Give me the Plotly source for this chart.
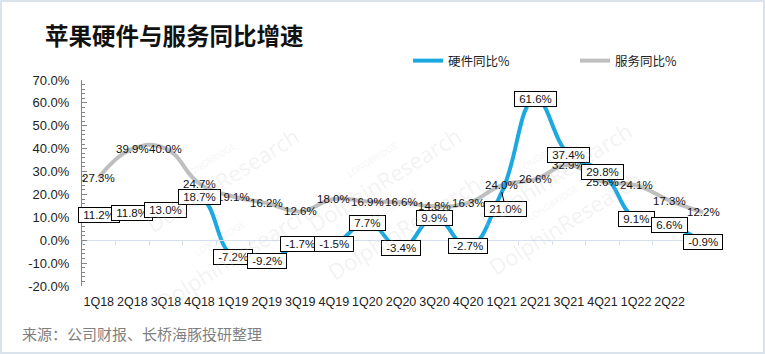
import plotly.graph_objects as go

quarters = ["1Q18", "2Q18", "3Q18", "4Q18", "1Q19", "2Q19", "3Q19", "4Q19", "1Q20", "2Q20",
            "3Q20", "4Q20", "1Q21", "2Q21", "3Q21", "4Q21", "1Q22", "2Q22", ""]
hardware = [11.2, 11.8, 13.0, 18.7, -7.2, -9.2, -1.7, -1.5, 7.7, -3.4, 9.9, -2.7, 21.0, 61.6,
            37.4, 29.8, 9.1, 6.6, -0.9]
services = [27.3, 39.9, 40.0, 24.7, 19.1, 16.2, 12.6, 18.0, 16.9, 16.6, 14.8, 16.3, 24.0, 26.6,
            32.9, 25.6, 24.1, 17.3, 12.2]
y_ticks = [-20, -10, 0, 10, 20, 30, 40, 50, 60, 70]

title = "苹果硬件与服务同比增速"
source = "来源：公司财报、长桥海豚投研整理"
hw_name = "硬件同比%"
sv_name = "服务同比%"

BLUE = "#1CA9E1"
GREY = "#BFBFBF"
W, H = 765, 354
ML, MR, MT, MB = 82, 45, 80, 68
PW, PH = W - ML - MR, H - MT - MB
CJK = "Noto Sans CJK SC"
LBL = "Liberation Sans Narrow, Liberation Sans, Arial"

x = list(range(len(quarters)))

# label offsets (px) for moved labels: index -> (ax, ay)
hw_offsets = {12: (4, 17)}

fig = go.Figure()
fig.add_trace(go.Scatter(x=x, y=services, mode="lines", name=sv_name,
                         line=dict(color=GREY, width=4, shape="spline", smoothing=1.3),
                         legend="legend2", hoverinfo="skip"))
fig.add_trace(go.Scatter(x=x, y=hardware, mode="lines", name=hw_name,
                         line=dict(color=BLUE, width=4, shape="spline", smoothing=1.3),
                         legend="legend", hoverinfo="skip"))
# invisible trace to activate zero-line axis
fig.add_trace(go.Scatter(x=x, y=hardware, xaxis="x2", mode="lines", line=dict(width=0),
                         showlegend=False, hoverinfo="skip", opacity=0))

ann = []
for i, v in enumerate(services):
    ann.append(dict(x=i, y=v, xref="x", yref="y", text=f"{v:.1f}%", showarrow=False,
                    font=dict(family=LBL, size=11.5, color="#111")))
for i, v in enumerate(hardware):
    d = dict(x=i, y=v, xref="x", yref="y", text=f"\u00a0{v:.1f}%\u00a0", showarrow=False,
             font=dict(family=LBL, size=11.5, color="#111"), bgcolor="white",
             bordercolor="black", borderwidth=1, borderpad=1)
    if i in hw_offsets:
        ax, ay = hw_offsets[i]
        d.update(showarrow=True, ax=ax, ay=ay, arrowhead=0, arrowwidth=1,
                 arrowcolor="black", standoff=0, startstandoff=0)
    ann.append(d)

# watermarks
wm = [(130, 105), (380, 105), (640, 100), (140, 320), (400, 290), (650, 285)]
for px, py in wm:
    ann.append(dict(x=(px - ML) / PW, y=1 - (py - MT) / PH, xref="paper", yref="paper",
                    text="<span style='font-size:9px'>LONGBRIDGE</span><br>DolphinResearch",
                    showarrow=False, textangle=-32, font=dict(family="Open Sans", size=22,
                    color="rgba(200,200,200,0.22)")))

ann.append(dict(x=(43 - ML) / PW, y=1 + (MT - 35) / PH, xref="paper", yref="paper",
                text=f"<b>{title}</b>", showarrow=False, xanchor="left", yanchor="middle",
                font=dict(family=CJK, size=23.5, color="#111")))
ann.append(dict(x=(20 - ML) / PW, y=-(333 - MT - PH) / PH, xref="paper", yref="paper",
                text=source, showarrow=False, xanchor="left", yanchor="middle",
                font=dict(family=CJK, size=15, color="#7F7F7F")))

shapes = [dict(type="rect", xref="paper", yref="paper",
               x0=-(ML - 1) / PW, x1=(W - ML - 1) / PW,
               y0=-(MB - 1) / PH, y1=1 + (MT - 1) / PH,
               line=dict(color="#DAE2EC", width=2), fillcolor="rgba(0,0,0,0)", layer="below")]

fig.update_layout(
    width=W, height=H, margin=dict(l=ML, r=MR, t=MT, b=MB),
    paper_bgcolor="white", plot_bgcolor="rgba(0,0,0,0)",
    annotations=ann, shapes=shapes,
    legend=dict(orientation="h", x=(408 - ML) / PW, y=1 + (MT - 61) / PH, xanchor="left",
                yanchor="middle", font=dict(family=CJK, size=12.5, color="#222"),
                bgcolor="rgba(0,0,0,0)"),
    legend2=dict(orientation="h", x=(575 - ML) / PW, y=1 + (MT - 61) / PH, xanchor="left",
                 yanchor="middle", font=dict(family=CJK, size=12.5, color="#222"),
                 bgcolor="rgba(0,0,0,0)"),
    xaxis=dict(range=[-0.5, len(quarters) - 0.5], tickvals=x[:18], ticktext=quarters[:18],
               showline=False, showgrid=False, zeroline=False, ticks="", tickangle=0,
               ticklabelstandoff=6,
               tickfont=dict(family="Liberation Sans, Arial", size=12.5, color="#222")),
    xaxis2=dict(range=[-0.5, len(quarters) - 0.5], overlaying="x", anchor="free",
                position=(0 - y_ticks[0]) / (y_ticks[-1] - y_ticks[0]),
                showline=True, linecolor="#D6DFEE", linewidth=1, ticks="outside",
                tickvals=[i + 0.5 for i in range(-1, len(quarters))], ticklen=4,
                tickcolor="#D6DFEE", showticklabels=False, showgrid=False, zeroline=False),
    yaxis=dict(range=[y_ticks[0], y_ticks[-1]], tickvals=y_ticks,
               ticktext=[f"{v:.1f}%" for v in y_ticks], showline=True, linecolor="#868686",
               linewidth=1, ticks="inside", ticklen=5, tickcolor="#868686", showgrid=False,
               zeroline=False, ticklabelstandoff=9,
               tickfont=dict(family="Liberation Sans, Arial", size=13, color="#222"),
               minor=dict(ticks="inside", dtick=2, ticklen=3, tickcolor="#868686", showgrid=False)),
    showlegend=True,
)

fig.write_html("out.html")
